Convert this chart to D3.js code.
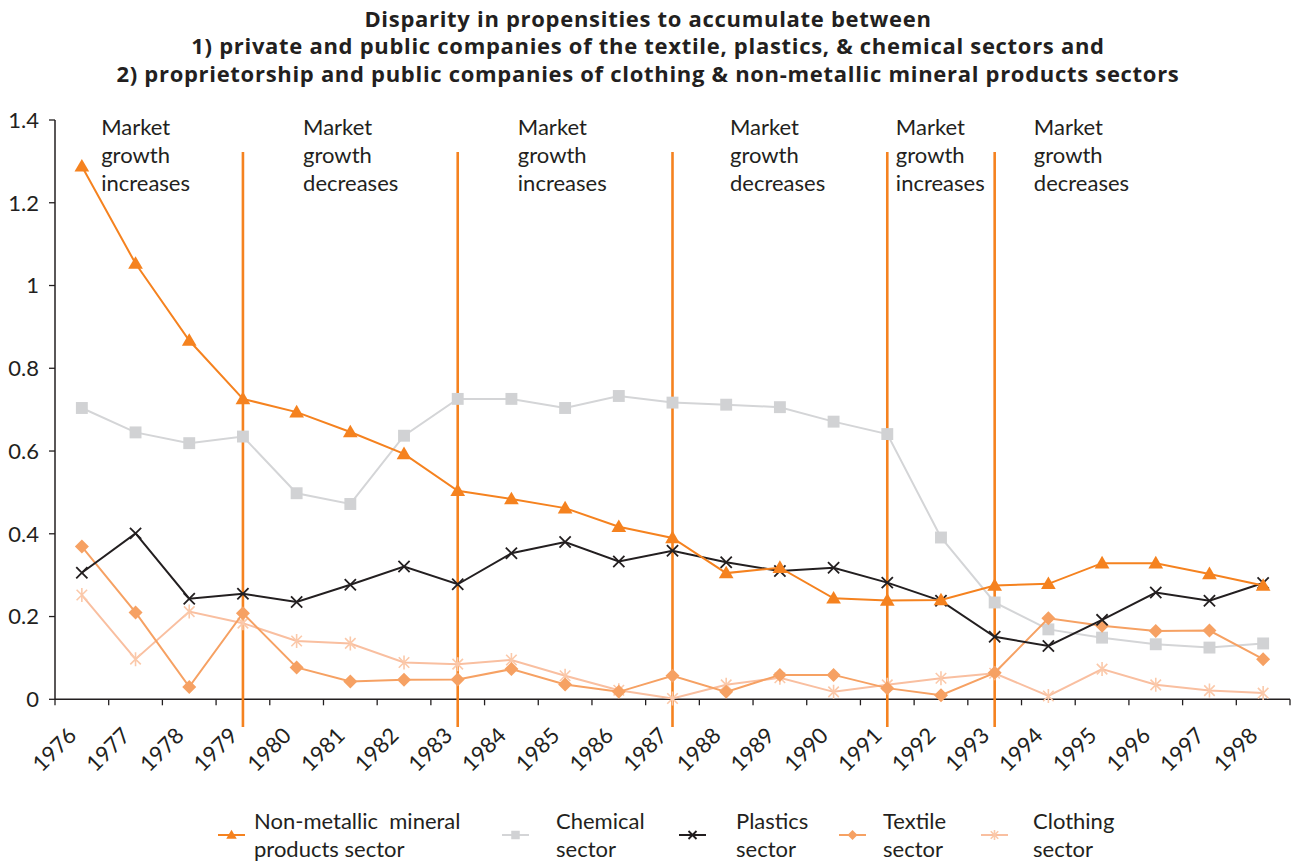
<!DOCTYPE html>
<html>
<head>
<meta charset="utf-8">
<script src="https://cdn.jsdelivr.net/npm/d3@7"></script>
<style>
  html, body { margin: 0; padding: 0; background: #ffffff; }
  svg { display: block; font-family: Lato, "Open Sans", sans-serif; }
</style>
</head>
<body>
<svg id="chart" width="1293" height="862"></svg>
<script>
// ---- data ----
const years = [1976, 1977, 1978, 1979, 1980, 1981, 1982, 1983, 1984, 1985, 1986, 1987,
               1988, 1989, 1990, 1991, 1992, 1993, 1994, 1995, 1996, 1997, 1998];

const nonMetallic = [1.288, 1.053, 0.867, 0.726, 0.694, 0.646, 0.593, 0.504, 0.484, 0.462, 0.417, 0.390,
                     0.305, 0.318, 0.244, 0.239, 0.240, 0.275, 0.279, 0.329, 0.329, 0.303, 0.275];
const chemical    = [0.704, 0.645, 0.619, 0.635, 0.498, 0.472, 0.637, 0.726, 0.726, 0.704, 0.733, 0.717,
                     0.712, 0.706, 0.671, 0.641, 0.391, 0.234, 0.169, 0.149, 0.133, 0.125, 0.135];
const plastics    = [0.306, 0.401, 0.243, 0.255, 0.235, 0.277, 0.321, 0.278, 0.353, 0.380, 0.333, 0.359,
                     0.331, 0.310, 0.318, 0.282, 0.238, 0.151, 0.129, 0.192, 0.258, 0.238, 0.281];
const textile     = [0.369, 0.210, 0.030, 0.208, 0.077, 0.043, 0.047, 0.048, 0.073, 0.036, 0.018, 0.057,
                     0.018, 0.059, 0.059, 0.027, 0.010, 0.064, 0.196, 0.178, 0.165, 0.166, 0.097];
const clothing    = [0.252, 0.097, 0.212, 0.184, 0.141, 0.135, 0.089, 0.085, 0.095, 0.057, 0.022, 0.002,
                     0.035, 0.052, 0.018, 0.035, 0.051, 0.063, 0.008, 0.073, 0.035, 0.021, 0.015];

const yTicks = [0, 0.2, 0.4, 0.6, 0.8, 1, 1.2, 1.4];
const yTickLabels = ["0", "0.2", "0.4", "0.6", "0.8", "1", "1.2", "1.4"];

// years at which market growth changes direction
const breakYears = [1979, 1983, 1987, 1991, 1993];
const periodLabels = ["increases", "decreases", "increases", "decreases", "increases", "decreases"];

const titleLines = [
  "Disparity in propensities to accumulate between",
  "1) private and public companies of the textile, plastics, & chemical sectors and",
  "2) proprietorship and public companies of clothing & non-metallic mineral products sectors"
];

const seriesNames = [
  ["Non-metallic\u00a0\u00a0mineral", "products sector"],
  ["Chemical", "sector"],
  ["Plastics", "sector"],
  ["Textile", "sector"],
  ["Clothing", "sector"]
];

// ---- styling ----
const series = [
  { values: nonMetallic, line: "#F5821F", fill: "#F5821F", marker: "triangle" },
  { values: chemical,    line: "#D4D5D7", fill: "#D1D2D4", marker: "square" },
  { values: plastics,    line: "#231F20", fill: "#231F20", marker: "cross" },
  { values: textile,     line: "#F6A163", fill: "#F6A163", marker: "diamond" },
  { values: clothing,    line: "#F9BFA0", fill: "#FBC9AA", marker: "star" }
];
const ink = "#231F20";
const breakColor = "#F5821F";

const svg = d3.select("#chart");
const margin = { left: 55, right: 1290, top: 120, bottom: 699.3 };

const xBand = d3.scaleBand().domain(years).range([margin.left, margin.right]).padding(0);
const xc = y => xBand(y) + xBand.bandwidth() / 2;
const y = d3.scaleLinear().domain([0, 1.4]).range([margin.bottom, margin.top]);

// ---- title ----
svg.append("g").selectAll("text").data(titleLines).join("text")
  .attr("x", 648).attr("y", (d, i) => 26.5 + i * 27.5)
  .attr("text-anchor", "middle")
  .style("font-family", "'Open Sans', Lato, sans-serif")
  .style("letter-spacing", "0.7px")
  .attr("font-size", 22).attr("font-weight", 700).attr("fill", ink)
  .text(d => d);

// ---- axes ----
const axisG = svg.append("g");
axisG.append("line")
  .attr("x1", margin.left).attr("x2", margin.left)
  .attr("y1", y(1.4)).attr("y2", y(0))
  .attr("stroke", ink).attr("stroke-width", 1.5);
axisG.append("line")
  .attr("x1", margin.left).attr("x2", margin.right)
  .attr("y1", y(0)).attr("y2", y(0))
  .attr("stroke", ink).attr("stroke-width", 1.5);

// y ticks
axisG.selectAll("line.yt").data(yTicks).join("line").attr("class", "yt")
  .attr("x1", margin.left - 6).attr("x2", margin.left)
  .attr("y1", d => y(d)).attr("y2", d => y(d))
  .attr("stroke", ink).attr("stroke-width", 1.3);
axisG.selectAll("text.yl").data(yTicks).join("text").attr("class", "yl")
  .attr("x", 39).attr("y", d => y(d)).attr("dy", "0.36em")
  .attr("text-anchor", "end").attr("font-size", 22).attr("fill", ink)
  .text((d, i) => yTickLabels[i]);

// x ticks at band boundaries
const xEdges = years.map(yr => xBand(yr)).concat([margin.right]);
axisG.selectAll("line.xt").data(xEdges).join("line").attr("class", "xt")
  .attr("x1", d => d).attr("x2", d => d)
  .attr("y1", y(0)).attr("y2", y(0) + 6)
  .attr("stroke", ink).attr("stroke-width", 1.3);
axisG.selectAll("text.xl").data(years).join("text").attr("class", "xl")
  .attr("transform", d => `translate(${xc(d) - 4},${737}) rotate(-45)`)
  .attr("text-anchor", "end").attr("font-size", 22).attr("fill", ink)
  .text(d => d);

// ---- market growth period separators ----
svg.append("g").selectAll("line").data(breakYears).join("line")
  .attr("x1", d => xc(d)).attr("x2", d => xc(d))
  .attr("y1", 152).attr("y2", 727)
  .attr("stroke", breakColor).attr("stroke-width", 2.6);

// period labels, placed a fraction of a year after each period start
const periodStarts = [1976.36, 1980.12, 1984.12, 1988.07, 1991.16, 1993.73];
const xYear = d3.scaleLinear().domain([1976, 1998]).range([xc(1976), xc(1998)]);
const pl = svg.append("g").selectAll("text").data(periodLabels).join("text")
  .attr("x", (d, i) => xYear(periodStarts[i])).attr("y", 135)
  .attr("font-size", 22).attr("fill", ink);
["Market", "growth", null].forEach((w, k) => {
  pl.append("tspan").attr("x", function () { return this.parentNode.getAttribute("x"); })
    .attr("dy", k === 0 ? 0 : 28)
    .text(d => w === null ? d : w);
});

// ---- markers ----
function drawMarker(g, type, size, color) {
  const s = size / 2;
  if (type === "triangle") {
    g.append("path").attr("d", `M0,${-s * 1.05}L${s * 1.05},${s * 0.75}L${-s * 1.05},${s * 0.75}Z`).attr("fill", color);
  } else if (type === "square") {
    g.append("rect").attr("x", -s * 0.85).attr("y", -s * 0.85).attr("width", s * 1.7).attr("height", s * 1.7).attr("fill", color);
  } else if (type === "diamond") {
    g.append("path").attr("d", `M0,${-s}L${s},0L0,${s}L${-s},0Z`).attr("fill", color);
  } else if (type === "cross") {
    const c = s * 0.8;
    g.append("path").attr("d", `M${-c},${-c}L${c},${c}M${c},${-c}L${-c},${c}`)
      .attr("stroke", color).attr("stroke-width", 1.8).attr("fill", "none");
  } else if (type === "star") {
    const c = s * 0.75;
    g.append("path").attr("d", `M${-c},${-c}L${c},${c}M${c},${-c}L${-c},${c}M0,${-s}L0,${s}`)
      .attr("stroke", color).attr("stroke-width", 1.6).attr("fill", "none");
  }
}

// ---- series lines ----
const line = d3.line().x((d, i) => xc(years[i])).y(d => y(d));
const plot = svg.append("g");
// draw back-to-front so the main orange series sits over the others
const order = [1, 4, 3, 2, 0];
order.forEach(si => {
  const s = series[si];
  plot.append("path").datum(s.values)
    .attr("d", line).attr("fill", "none")
    .attr("stroke", s.line).attr("stroke-width", 2);
  plot.append("g").selectAll("g").data(s.values).join("g")
    .attr("transform", (d, i) => `translate(${xc(years[i])},${y(d)})`)
    .each(function () { drawMarker(d3.select(this), s.marker, 14, s.fill); });
});

// ---- legend ----
const legendItems = [
  { lx: 218, tx: 254 },
  { lx: 502, tx: 556 },
  { lx: 679, tx: 736 },
  { lx: 839, tx: 883 },
  { lx: 981, tx: 1033 }
];
const lg = svg.append("g");
legendItems.forEach((it, i) => {
  const s = series[i];
  lg.append("line").attr("x1", it.lx).attr("x2", it.lx + 27)
    .attr("y1", 835).attr("y2", 835)
    .attr("stroke", s.line).attr("stroke-width", 2);
  const m = lg.append("g").attr("transform", `translate(${it.lx + 13.5},835)`);
  drawMarker(m, s.marker, 10, s.fill);
  const t = lg.append("text").attr("font-size", 22).attr("fill", ink);
  seriesNames[i].forEach((w, k) => {
    t.append("tspan").attr("x", it.tx).attr("y", 829 + k * 28).text(w);
  });
});
</script>
</body>
</html>
